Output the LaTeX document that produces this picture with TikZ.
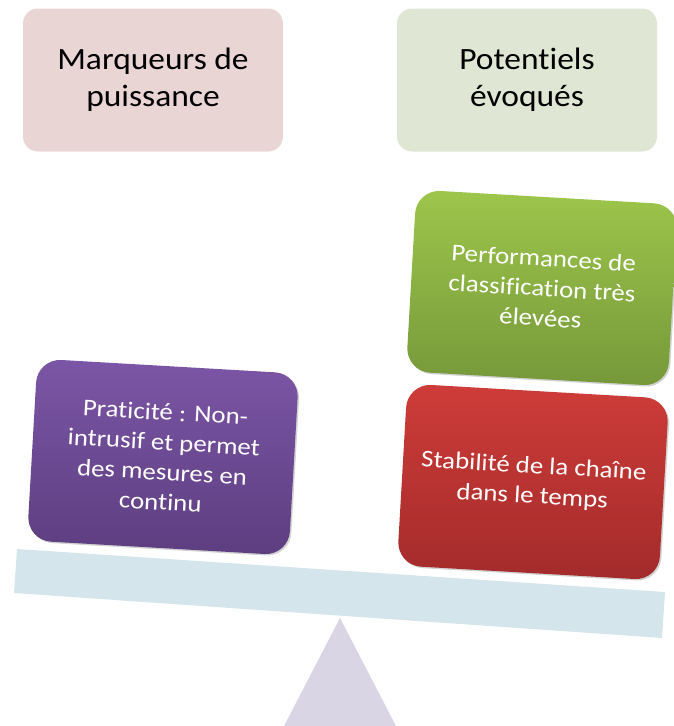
\documentclass[tikz,border=0pt]{standalone}
\usepackage{fontspec}
\setmainfont{Carlito}[Ligatures=NoCommon]
\newfontfamily\headfont{Carlito}[Ligatures=NoCommon, FakeStretch=1.08]
\newfontfamily\boxfont{Carlito}[Ligatures=NoCommon, FakeStretch=1.12]
\usetikzlibrary{shadows}
\definecolor{pinkbox}{HTML}{EAD5D5}
\definecolor{greenbox}{HTML}{DFE7D4}
\definecolor{beamcol}{HTML}{D4E6EC}
\definecolor{fulcrumcol}{HTML}{DAD5E4}
\definecolor{purpletop}{HTML}{7C56A6}
\definecolor{purplebot}{HTML}{5D3E80}
\definecolor{greentop}{HTML}{9DC64B}
\definecolor{greenbot}{HTML}{76983A}
\definecolor{redtop}{HTML}{CE3C38}
\definecolor{redbot}{HTML}{A32B2B}
\tikzset{
  headbox/.style={rectangle, rounded corners=15pt, minimum width=260pt, minimum height=143pt,
    inner sep=0pt, align=center, text=black, font=\headfont\fontsize{31}{37}\selectfont},
  weightbox/.style={rectangle, rounded corners=24pt, minimum width=262pt, minimum height=182pt,
    inner sep=0pt, align=center, text=white, rotate=-3.3, font=\boxfont\fontsize{24}{30}\selectfont,
    drop shadow={opacity=0.35, shadow xshift=1.5pt, shadow yshift=-1.5pt}}
}
\begin{document}
\begin{tikzpicture}[x=1pt,y=-1pt]
\useasboundingbox (0,0) rectangle (673,726);
\fill[beamcol] (17,549) -- (665,592) -- (662,638) -- (14,593) -- cycle;
\fill[fulcrumcol] (340,618) -- (396,726) -- (284,726) -- cycle;
\node[headbox, fill=pinkbox] (pmark) at (153,80) {Marqueurs de\\puissance};
\node[headbox, fill=greenbox] (pevok) at (527,80) {Potentiels\\évoqués};
\node[weightbox, top color=purpletop, bottom color=purplebot] (prat) at (163,457)
  {Praticité : Non-\\intrusif et permet\\des mesures en\\continu};
\node[weightbox, top color=greentop, bottom color=greenbot] (perf) at (542,288)
  {Performances de\\classification très\\élevées};
\node[weightbox, top color=redtop, bottom color=redbot] (stab) at (533,482)
  {Stabilité de la chaîne\\dans le temps};
\end{tikzpicture}
\end{document}
